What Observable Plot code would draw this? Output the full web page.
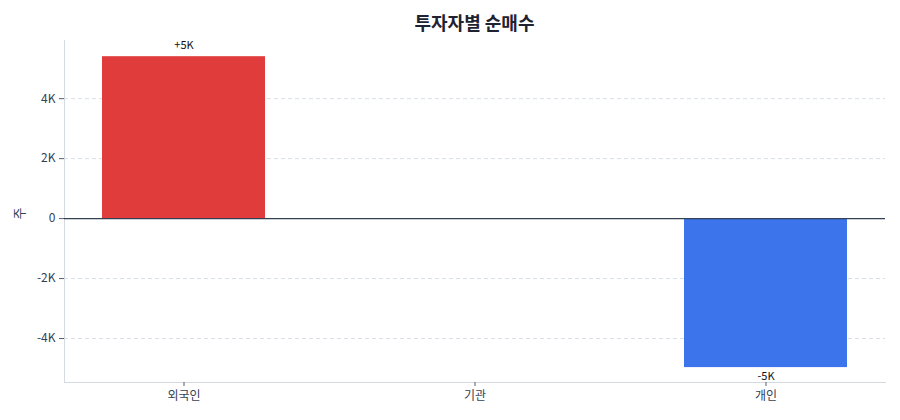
<!DOCTYPE html>
<html>
<head>
<meta charset="utf-8">
<script src="https://cdn.jsdelivr.net/npm/d3@7"></script>
<script src="https://cdn.jsdelivr.net/npm/@observablehq/plot@0.6"></script>
<style>
  html, body { margin: 0; padding: 0; background: #fff; }
  body { width: 900px; height: 420px; overflow: hidden; font-family: "Noto Sans CJK KR", "Noto Sans", sans-serif; position: relative; }
  #title { position: absolute; left: 64px; width: 821px; top: 8px; text-align: center; font-size: 18px; font-weight: 700; color: #1f2230; line-height: 28px; z-index: 2; }
  #chart { position: absolute; left: 0; top: 20px; z-index: 1; }
</style>
</head>
<body>
<div id="title">투자자별 순매수</div>
<div id="chart"></div>
<script>
const categories = ["외국인", "기관", "개인"];
const values = [5400, 0, -4970];
const labels = ["+5K", "", "-5K"];
const yTicks = [-4000, -2000, 0, 2000, 4000];
const yLabel = "주";

const data = categories.map((c, i) => ({ cat: c, value: values[i], label: labels[i] }));
const maxV = d3.max(values), minV = d3.min(values);

const fmt = d => d === 0 ? "0" : `${d / 1000}K`;

const plot = Plot.plot({
  width: 900,
  height: 20 + 342 + 38,
  marginTop: 20,
  marginBottom: 38,
  marginLeft: 64,
  marginRight: 15,
  style: { fontFamily: "'Noto Sans CJK KR', 'Noto Sans', sans-serif", fontSize: "12px", color: "#334155", background: "transparent" },
  x: { domain: categories, paddingInner: 0.44, paddingOuter: 0.127, label: null },
  y: { domain: [minV * 1.1, maxV * 1.1], label: null },
  marks: [
    Plot.gridY(yTicks.filter(d => d !== 0), { stroke: "#d8dde6", strokeOpacity: 1, strokeDasharray: "4,3" }),
    Plot.frame({ anchor: "left", stroke: "#d5d9e2" }),
    Plot.frame({ anchor: "bottom", stroke: "#d5d9e2" }),
    Plot.barY(data, { x: "cat", y: "value", fill: d => d.value >= 0 ? "#e03c3c" : "#3c74ec" }),
    Plot.ruleY([0], { stroke: "#334155", strokeWidth: 1.3 }),
    Plot.axisY({ ticks: yTicks, tickFormat: fmt, tickSize: 5, tickPadding: 4, stroke: "#555e6e", fill: "#334155", fontSize: 12, label: null }),
    Plot.axisX({ tickSize: 4, tickPadding: 5, stroke: "#555e6e", fill: "#334155", fontSize: 12, label: null }),
    Plot.text(data.filter(d => d.label && d.value > 0), { x: "cat", y: "value", text: "label", dy: -11, fill: "#111", fontSize: 11 }),
    Plot.text(data.filter(d => d.label && d.value < 0), { x: "cat", y: "value", text: "label", dy: 9, fill: "#111", fontSize: 11 }),
    Plot.text([yLabel], { frameAnchor: "left", dx: -45, dy: 8, rotate: -90, fill: "#334155", fontSize: 13 })
  ]
});
document.getElementById("chart").appendChild(plot);
</script>
</body>
</html>
